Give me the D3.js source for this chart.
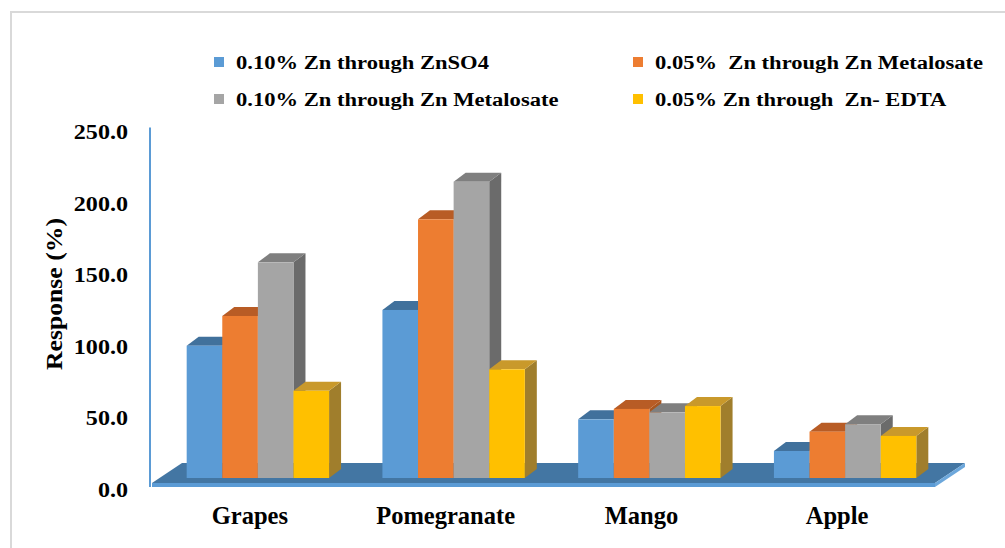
<!DOCTYPE html>
<html>
<head>
<meta charset="utf-8">
<script src="https://cdn.jsdelivr.net/npm/d3@7"></script>
<style>
  html, body { margin: 0; padding: 0; background: #fff; }
  svg { display: block; }
  text { font-family: "Liberation Serif", "Times New Roman", serif; font-weight: bold; fill: #000; white-space: pre; }
</style>
</head>
<body>
<svg id="chart" width="1005" height="548"></svg>
<script>
// ---- data ----
const categories = ["Grapes", "Pomegranate", "Mango", "Apple"];
const seriesNames = [
  "0.10% Zn through ZnSO4",
  "0.05%  Zn through Zn Metalosate",
  "0.10% Zn through Zn Metalosate",
  "0.05% Zn through  Zn- EDTA"
];
const znso4_010      = [92.5, 117.5, 41.0, 18.9];
const metalosate_005 = [113.3, 180.9, 48.3, 32.4];
const metalosate_010 = [150.8, 207.2, 45.9, 37.6];
const edta_005       = [61.0, 76.0, 50.3, 29.4];
const yTicks = [0, 50, 100, 150, 200, 250];

// ---- styles ----
const frontColors = ["#5B9BD5", "#ED7D31", "#A5A5A5", "#FFC000"];
const topColors   = ["#41719C", "#B85C25", "#7F7F7F", "#C9992B"];
const sideColors  = ["#3A6690", "#A9561F", "#6B6B6B", "#A07E2C"];

const seriesValues = [znso4_010, metalosate_005, metalosate_010, edta_005];

// ---- layout ----
const svg = d3.select("#chart");
const floorFront = 487, floorLeft = 152, floorRight = 935;
const floorDX = 30, floorDY = 24, floorThick = 4;
const barDX = 12, barDY = 9;
const barShiftX = 8, barShiftY = 9;

function stretchBy(sel, f) {
  sel.each(function () {
    const L = this.getComputedTextLength();
    d3.select(this).attr("textLength", L * f).attr("lengthAdjust", "spacingAndGlyphs");
  });
}
const pts = a => a.map(p => p.join(",")).join(" ");

// border
svg.append("rect").attr("x", 11).attr("y", 12).attr("width", 1010).attr("height", 560)
  .attr("fill", "none").attr("stroke", "#d9d9d9").attr("stroke-width", 2);

const y = d3.scaleLinear().domain([0, 250]).range([floorFront, floorFront - 357.5]);
const x0 = d3.scaleBand().domain(categories).range([floorLeft, floorRight])
  .paddingInner(0.2726).paddingOuter(0.1363);
const x1 = d3.scaleBand().domain(d3.range(seriesNames.length)).range([0, x0.bandwidth()]);

// floor slab
const fl = svg.append("g");
fl.append("polygon")
  .attr("points", pts([
    [floorLeft, floorFront - floorThick],
    [floorLeft + floorDX, floorFront - floorDY],
    [floorRight + floorDX, floorFront - floorDY],
    [floorRight, floorFront - floorThick]
  ]))
  .attr("fill", "#4376A3");
fl.append("polygon")
  .attr("points", pts([
    [floorLeft, floorFront - floorThick], [floorRight, floorFront - floorThick],
    [floorRight, floorFront], [floorLeft, floorFront]
  ]))
  .attr("fill", "#5B9BD5");
fl.append("polygon")
  .attr("points", pts([
    [floorRight, floorFront - floorThick], [floorRight + floorDX, floorFront - floorDY],
    [floorRight + floorDX, floorFront - floorDY + floorThick], [floorRight, floorFront]
  ]))
  .attr("fill", "#6CA7DB");

// axis line
svg.append("line").attr("x1", 150).attr("x2", 150)
  .attr("y1", y(250) - 2).attr("y2", floorFront)
  .attr("stroke", "#5B9BD5").attr("stroke-width", 2);

// tick labels
const tl = svg.append("g").selectAll("text").data(yTicks).join("text")
  .attr("x", 128).attr("y", d => y(d) + 2).attr("dy", "0.35em")
  .attr("text-anchor", "end").style("font-size", "21.5px")
  .text(d => d3.format(".1f")(d));
stretchBy(tl, 1.12);

// axis title
svg.append("text")
  .attr("transform", "translate(62,294) rotate(-90)")
  .attr("text-anchor", "middle").style("font-size", "23.5px")
  .attr("textLength", 152).attr("lengthAdjust", "spacingAndGlyphs")
  .text("Response (%)");

// bars
const bars = svg.append("g");
categories.forEach((c, ci) => {
  seriesValues.forEach((vals, si) => {
    const v = vals[ci];
    const xl = x0(c) + x1(si) + barShiftX;
    const xr = xl + x1.bandwidth();
    const base = floorFront - barShiftY;
    const top = y(v) - barShiftY;
    const g = bars.append("g");
    g.append("polygon")
      .attr("points", pts([[xr, base], [xr + barDX, base - barDY], [xr + barDX, top - barDY], [xr, top]]))
      .attr("fill", sideColors[si]);
    g.append("polygon")
      .attr("points", pts([[xl, top], [xl + barDX, top - barDY], [xr + barDX, top - barDY], [xr, top]]))
      .attr("fill", topColors[si]);
    g.append("rect")
      .attr("x", xl).attr("y", top).attr("width", xr - xl).attr("height", base - top)
      .attr("fill", frontColors[si]);
  });
});

// category labels
svg.append("g").selectAll("text").data(categories).join("text")
  .attr("x", d => x0(d) + x0.bandwidth() / 2)
  .attr("y", 524).attr("text-anchor", "middle").style("font-size", "24.5px")
  .text(d => d);

// legend
const legend = svg.append("g");
const legCols = [214, 633], legRows = [57, 94];
seriesNames.forEach((name, i) => {
  const lx = legCols[i % 2], ly = legRows[Math.floor(i / 2)];
  legend.append("rect").attr("x", lx).attr("y", ly).attr("width", 10).attr("height", 10)
    .attr("fill", frontColors[i]);
  const t = legend.append("text").attr("x", lx + 22).attr("y", ly + 12)
    .style("font-size", "18.5px").text(name);
  stretchBy(t, 1.22);
});
</script>
</body>
</html>
